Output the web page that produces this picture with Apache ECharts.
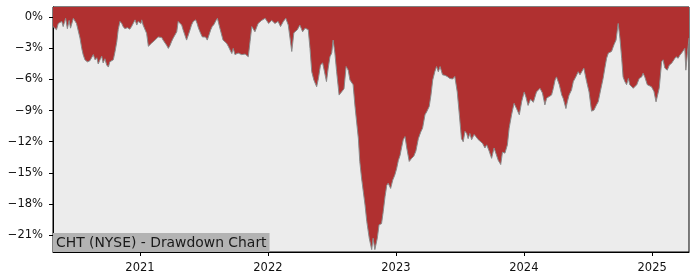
<!DOCTYPE html>
<html><head><meta charset="utf-8">
<script src="https://cdn.jsdelivr.net/npm/echarts@6/dist/echarts.min.js"></script>
<style>html,body{margin:0;padding:0;background:#fff}#c{width:700px;height:280px}</style>
</head><body><div id="c"></div>
<script>
const chartTitle = 'CHT (NYSE) - Drawdown Chart';
const yearTicks = ['2021', '2022', '2023', '2024', '2025'];
const yTicks = [0, -3, -6, -9, -12, -15, -18, -21];

const dates2020 = [
  '2020-04-28',
  '2020-05-08','2020-05-13','2020-05-18','2020-05-23','2020-05-27',
  '2020-06-03','2020-06-08','2020-06-13','2020-06-17','2020-06-25','2020-06-30',
  '2020-07-04','2020-07-09','2020-07-14','2020-07-19','2020-07-23','2020-07-28',
  '2020-08-04','2020-08-11','2020-08-16','2020-08-21','2020-08-26','2020-08-31',
  '2020-09-04','2020-09-09','2020-09-14','2020-09-18','2020-09-23','2020-09-28',
  '2020-10-03','2020-10-07','2020-10-12','2020-10-17','2020-10-22','2020-10-27','2020-10-31',
  '2020-11-05','2020-11-10','2020-11-14','2020-11-19','2020-11-26',
  '2020-12-03','2020-12-08','2020-12-13','2020-12-18','2020-12-23','2020-12-27'
];
const dd2020 = [
  -0.9,
  -1.2, -0.6, -0.75, -0.4, -0.9,
  -0.1, -1.1, -0.3, -1.05, -0.1, -0.15,
  -0.6, -0.7, -2.0, -3.0, -3.6, -4.1,
  -4.3, -4.2, -3.9, -3.6, -4.1, -3.9,
  -4.5, -4.1, -3.75, -4.4, -4.0, -4.6,
  -4.8, -4.3, -4.45, -4.1, -3.3, -2.35, -1.2,
  -0.4, -0.6, -0.9, -1.1, -1.0,
  -1.15, -0.9, -1.05, -0.25, -0.75, -0.4
];

const dates2021 = [
  '2021-01-04','2021-01-06','2021-01-10','2021-01-15','2021-01-20','2021-01-25','2021-01-30',
  '2021-02-03','2021-02-08','2021-02-13','2021-02-18','2021-02-22','2021-02-27',
  '2021-03-04','2021-03-08','2021-03-13','2021-03-18','2021-03-23','2021-03-28',
  '2021-04-01','2021-04-06','2021-04-11','2021-04-16','2021-04-20','2021-04-25','2021-04-30',
  '2021-05-04','2021-05-09','2021-05-14','2021-05-19','2021-05-24','2021-05-28',
  '2021-06-02','2021-06-09','2021-06-13','2021-06-17','2021-06-23','2021-06-28',
  '2021-07-02','2021-07-07','2021-07-12','2021-07-17','2021-07-22','2021-07-26','2021-07-31',
  '2021-08-06','2021-08-10','2021-08-17','2021-08-26',
  '2021-09-05','2021-09-10','2021-09-20','2021-09-24','2021-09-29',
  '2021-10-08','2021-10-18','2021-10-28',
  '2021-11-06','2021-11-11','2021-11-16','2021-11-25',
  '2021-12-04','2021-12-14','2021-12-24'
];
const dd2021 = [
  -0.6, -0.25, -0.75, -0.6, -1.55, -2.8, -2.7,
  -2.5, -2.4, -2.2, -2.35, -1.9, -2.0,
  -1.95, -2.2, -2.35, -2.7, -3.0, -2.7,
  -2.35, -2.0, -1.9, -1.4, -0.4, -0.25, -0.75,
  -1.2, -1.7, -2.2, -1.7, -1.2, -0.75,
  -0.4, -0.25, -0.6, -1.05, -1.55, -1.9,
  -2.0, -1.9, -2.2, -1.7, -1.2, -0.9, -0.7,
  -0.3, -0.1, -1.05, -2.2,
  -2.5, -2.8, -3.5, -3.0, -3.6,
  -3.45, -3.6, -3.55,
  -3.8, -2.35, -0.9, -1.4,
  -0.6, -0.3, -0.1
];

const dates2022 = [
  '2022-01-03','2022-01-12','2022-01-21','2022-01-30',
  '2022-02-06','2022-02-14','2022-02-21','2022-02-28',
  '2022-03-05','2022-03-10','2022-03-16','2022-03-26',
  '2022-04-02','2022-04-10','2022-04-17','2022-04-26',
  '2022-05-01','2022-05-06','2022-05-12','2022-05-20','2022-05-25','2022-05-31',
  '2022-06-06','2022-06-11','2022-06-17','2022-06-22','2022-06-27',
  '2022-07-02','2022-07-06','2022-07-11','2022-07-16','2022-07-23','2022-07-30',
  '2022-08-06','2022-08-12','2022-08-18','2022-08-23',
  '2022-09-01','2022-09-06','2022-09-11','2022-09-16','2022-09-20','2022-09-25','2022-09-30',
  '2022-10-05','2022-10-10','2022-10-17','2022-10-24','2022-10-28',
  '2022-11-02','2022-11-09','2022-11-14','2022-11-21','2022-11-26',
  '2022-12-01','2022-12-06','2022-12-10','2022-12-17','2022-12-23','2022-12-29'
];
const dd2022 = [
  -0.6, -0.3, -0.6, -0.4,
  -0.9, -0.4, -0.1, -0.75,
  -2.0, -3.3, -1.5, -1.2,
  -0.75, -1.4, -1.05, -1.2,
  -3.0, -5.25, -6.05, -6.7, -5.9, -4.6,
  -4.4, -5.2, -6.2, -4.9, -3.8,
  -3.45, -2.2, -3.45, -5.25, -7.5, -7.2,
  -6.9, -4.75, -5.1, -6.05,
  -6.5, -8.45, -10.1, -11.7, -13.9, -15.5, -16.8,
  -18.1, -19.7, -21.3, -22.4, -21.3,
  -22.4, -21.3, -20.0, -19.9, -18.7,
  -17.3, -16.2, -16.0, -16.5, -15.7, -15.2
];

const dates2023 = [
  '2023-01-03','2023-01-08','2023-01-13','2023-01-17','2023-01-22','2023-01-27',
  '2023-02-01','2023-02-08','2023-02-15','2023-02-21','2023-02-27',
  '2023-03-06','2023-03-13','2023-03-18','2023-03-25','2023-03-30',
  '2023-04-06','2023-04-11','2023-04-16','2023-04-22','2023-04-27',
  '2023-05-02','2023-05-07','2023-05-14','2023-05-21','2023-05-27',
  '2023-06-04','2023-06-12','2023-06-18','2023-06-25',
  '2023-07-01','2023-07-07','2023-07-12','2023-07-17','2023-07-22','2023-07-26','2023-07-31',
  '2023-08-05','2023-08-12','2023-08-17','2023-08-24','2023-08-29',
  '2023-09-05','2023-09-12','2023-09-17','2023-09-24',
  '2023-10-01','2023-10-08','2023-10-13','2023-10-20','2023-10-27',
  '2023-11-01','2023-11-08','2023-11-15','2023-11-20','2023-11-27',
  '2023-12-04','2023-12-11','2023-12-19','2023-12-26'
];
const dd2023 = [
  -14.6, -13.8, -13.3, -12.6, -11.8, -11.5,
  -12.6, -13.9, -13.6, -13.4, -12.9,
  -11.7, -11.05, -10.7, -9.4, -9.1,
  -8.6, -7.5, -6.05, -5.25, -4.75,
  -5.25, -4.75, -5.55, -5.6, -5.7,
  -5.9, -5.95, -5.7, -7.2,
  -9.4, -11.7, -12.0, -11.0, -11.2, -11.7, -11.2,
  -11.8, -11.3, -11.5, -11.8, -11.7,
  -12.15, -12.6, -12.3, -12.9,
  -13.6, -12.6, -13.1, -13.8, -14.2,
  -13.0, -13.1, -12.3, -10.7, -9.4,
  -8.3, -8.8, -9.4, -8.1
];

const dates2024 = [
  '2024-01-02','2024-01-07','2024-01-13','2024-01-20','2024-01-28',
  '2024-02-06','2024-02-16','2024-02-23',
  '2024-03-01','2024-03-06','2024-03-13','2024-03-20','2024-03-25','2024-03-30',
  '2024-04-03','2024-04-11','2024-04-18','2024-04-22','2024-04-30',
  '2024-05-04','2024-05-09','2024-05-16','2024-05-21','2024-05-28',
  '2024-06-04','2024-06-09','2024-06-14','2024-06-20','2024-06-28',
  '2024-07-05','2024-07-12','2024-07-19','2024-07-26','2024-07-31',
  '2024-08-07','2024-08-14','2024-08-19','2024-08-24','2024-08-29',
  '2024-09-07','2024-09-14','2024-09-20','2024-09-23','2024-09-26',
  '2024-10-01','2024-10-06','2024-10-10','2024-10-15','2024-10-20','2024-10-25','2024-10-29',
  '2024-11-03','2024-11-08','2024-11-13','2024-11-18','2024-11-25',
  '2024-12-02','2024-12-06','2024-12-11','2024-12-18','2024-12-23','2024-12-30'
];
const dd2024 = [
  -7.2, -7.7, -8.5, -7.9, -8.2,
  -7.2, -6.85, -7.3,
  -8.45, -7.8, -7.65, -7.5, -6.85, -6.05,
  -5.75, -6.5, -7.5, -7.8, -8.8,
  -8.15, -7.5, -7.0, -6.2, -5.75,
  -5.25, -5.55, -5.25, -4.9, -6.2,
  -7.2, -9.05, -8.95, -8.45, -8.15,
  -7.0, -5.9, -4.9, -3.95, -3.45,
  -3.3, -2.65, -2.2, -1.4, -0.6,
  -2.0, -3.95, -5.75, -6.2, -6.5, -5.9, -6.5,
  -6.35, -6.85, -7.0, -6.5, -5.9,
  -5.75, -5.4, -5.75, -6.5, -6.35, -6.7
];

const dates2025 = [
  '2025-01-06','2025-01-12','2025-01-15','2025-01-21','2025-01-28',
  '2025-02-01','2025-02-06','2025-02-13','2025-02-19','2025-02-25',
  '2025-03-04','2025-03-10','2025-03-16','2025-03-21','2025-03-26','2025-03-31',
  '2025-04-04','2025-04-07','2025-04-11','2025-04-14','2025-04-16'
];
const dd2025 = [
  -7.15, -8.15, -8.3, -6.85, -4.3,
  -4.1, -4.9, -5.1, -4.6, -4.45,
  -4.1, -3.8, -3.95, -3.65, -3.45, -3.3,
  -3.0, -5.1, -3.65, -2.65, -2.0
];

const dates = [].concat(dates2020, dates2021, dates2022, dates2023, dates2024, dates2025);
const drawdown = [].concat(dd2020, dd2021, dd2022, dd2023, dd2024, dd2025);

function toTs(s) {
  const p = s.split('-').map(Number);
  return Date.UTC(p[0], (p[1] || 1) - 1, p[2] || 1);
}

const xTickValues = yearTicks.map(toTs);
const chart = echarts.init(document.getElementById('c'), null, { renderer: 'canvas' });
chart.setOption({
  animation: false,
  textStyle: { fontFamily: 'DejaVu Sans' },
  title: {
    text: chartTitle,
    left: 53, top: 233,
    padding: [2, 3, 1, 3],
    backgroundColor: '#b3b3b3',
    textStyle: { fontFamily: 'DejaVu Sans', fontSize: 13.9, fontWeight: 'normal', color: '#1a1a1a', lineHeight: 16 }
  },
  grid: {
    left: 53, right: 11, top: 7, bottom: 28,
    show: true, backgroundColor: '#ececec', borderColor: '#000', borderWidth: 1
  },
  xAxis: {
    type: 'value',
    min: toTs(dates[0]), max: toTs(dates[dates.length - 1]),
    axisLine: { show: true, onZero: false, lineStyle: { color: '#000', width: 1 } },
    axisTick: { show: true, length: 4, lineStyle: { color: '#000' }, customValues: xTickValues },
    axisLabel: {
      customValues: xTickValues,
      formatter: v => String(new Date(v).getUTCFullYear()),
      fontFamily: 'DejaVu Sans', fontSize: 11.5, color: '#111', margin: 10
    },
    splitLine: { show: false }
  },
  yAxis: {
    type: 'value',
    min: -22.63, max: 0.99,
    axisLine: { show: true, onZero: false, lineStyle: { color: '#000', width: 1 } },
    axisTick: { show: true, length: 4, lineStyle: { color: '#000' }, customValues: yTicks },
    axisLabel: {
      customValues: yTicks,
      formatter: v => (v < 0 ? '\u2212' : '') + Math.abs(v) + '%',
      fontFamily: 'DejaVu Sans', fontSize: 11.5, color: '#111', margin: 10
    },
    splitLine: { show: false }
  },
  series: [{
    type: 'line',
    data: dates.map((d, i) => [toTs(d), drawdown[i]]),
    showSymbol: false,
    symbol: 'none',
    silent: true,
    lineStyle: { color: '#8a8a8a', width: 1 },
    areaStyle: { origin: 'end', color: '#b03030', opacity: 1 }
  }]
});
</script></body></html>
